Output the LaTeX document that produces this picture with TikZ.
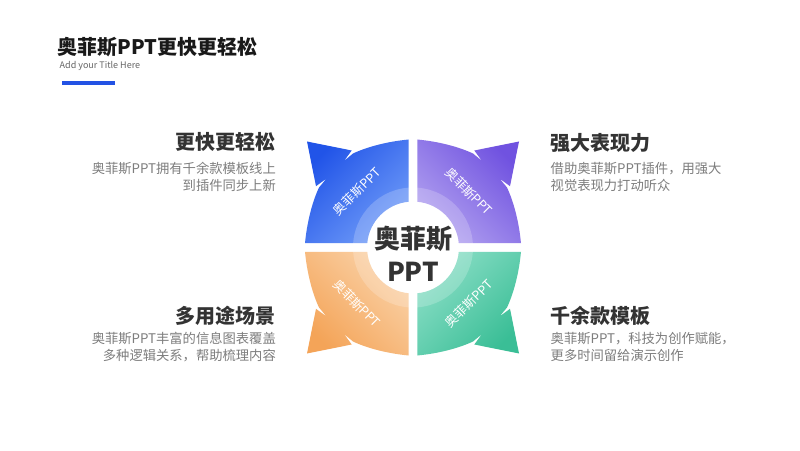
\documentclass[tikz,border=0pt]{standalone}
\usepackage{fontspec}
\newfontfamily\cjk{Noto Sans CJK SC}
\usepackage{xcolor}
\usepackage{tikz}
\usetikzlibrary{positioning, calc}

\definecolor{titleblue}{RGB}{35,82,228}
\definecolor{blueDark}{RGB}{33,84,232}
\definecolor{blueLight}{RGB}{112,156,248}
\definecolor{purpleDark}{RGB}{112,82,224}
\definecolor{purpleLight}{RGB}{178,162,240}
\definecolor{greenDark}{RGB}{58,190,150}
\definecolor{greenLight}{RGB}{138,222,198}
\definecolor{orangeDark}{RGB}{244,164,88}
\definecolor{orangeLight}{RGB}{250,210,168}
\definecolor{headgray}{RGB}{51,51,51}
\definecolor{bodygray}{RGB}{125,125,125}

% one quarter arrow, first quadrant, centre at origin
\newcommand{\petalpath}{(4.3,45.8) -- (4.3,108) .. controls (25,106) and (45,101) .. (60,94) -- (69,86.5) -- (61.3,97) -- (106,106) -- (97,61.3) -- (86.5,69) -- (94,60) .. controls (101,45) and (106,25) .. (108,4.3) -- (45.8,4.3) arc[start angle=5.36, end angle=84.64, radius=46] -- cycle}

\begin{document}
\begin{tikzpicture}[
    x=1pt, y=1pt,
    titletext/.style={font=\cjk\bfseries\fontsize{20}{24}\selectfont, text=black!90, inner sep=0pt},
    subtext/.style={font=\cjk\fontsize{9}{11}\selectfont, text=black!60, inner sep=0pt},
    headtext/.style={font=\cjk\bfseries\fontsize{20}{24}\selectfont, text=headgray, inner sep=0pt},
    bodytext/.style={font=\cjk\fontsize{13.3}{17.5}\selectfont, text=bodygray, inner sep=0pt},
    petaltext/.style={font=\cjk\fontsize{12.5}{15}\selectfont, text=white, inner sep=0pt},
    centertext/.style={font=\cjk\bfseries\fontsize{26}{33.5}\selectfont, text=headgray, align=center, inner sep=0pt}
]
\useasboundingbox (0,0) rectangle (800,450);
\fill[white] (0,0) rectangle (800,450);

% === Title ===
\node[titletext, anchor=base west] (title) at (57.5,395.9) {奥菲斯PPT更快更轻松};
\node[subtext, anchor=base west] (subtitle) at ([xshift=2pt, yshift=-14.4pt]title.base west) {Add your Title Here};
\fill[titleblue] (61.7,365) rectangle (115,369);

% === Four arrows round the centre ===
\coordinate (C) at (413,202.5);
\begin{scope}[shift={(C)}]
\shade[top color=purpleDark, bottom color=purpleLight, shading angle=-45] \petalpath;
\shade[xscale=-1, top color=blueDark, bottom color=blueLight, shading angle=45] \petalpath;
\shade[yscale=-1, top color=greenDark, bottom color=greenLight, shading angle=225] \petalpath;
\shade[scale=-1, top color=orangeDark, bottom color=orangeLight, shading angle=135] \petalpath;

% light ring
\fill[white, opacity=0.2, even odd rule] (0,0) circle[radius=60] (0,0) circle[radius=46];

\node[petaltext, rotate=45] (bluelabel) at (-56,56) {奥菲斯PPT};
\node[petaltext, rotate=-45] (purplelabel) at (56,56) {奥菲斯PPT};
\node[petaltext, rotate=-45] (orangelabel) at (-56,-56) {奥菲斯PPT};
\node[petaltext, rotate=45] (greenlabel) at (56,-56) {奥菲斯PPT};
\end{scope}

% base of a two-line node is its last line
\node[centertext, anchor=base] (brand) at (413,168.3) {奥菲斯\\PPT};

% === Left texts ===
\node[headtext, anchor=base east] (speedhead) at (276,300.5) {更快更轻松};
\node[bodytext, align=right, anchor=base east] (speedbody) at ([yshift=-41.2pt]speedhead.base east) {奥菲斯PPT拥有千余款模板线上\\到插件同步上新};

\node[headtext, anchor=base east] (scenehead) at (276,126.1) {多用途场景};
\node[bodytext, align=right, anchor=base east] (scenebody) at ([yshift=-36.8pt]scenehead.base east) {奥菲斯PPT丰富的信息图表覆盖\\多种逻辑关系，帮助梳理内容};

% === Right texts ===
\node[headtext, anchor=base west] (powerhead) at (550.5,299.8) {强大表现力};
\node[bodytext, align=left, anchor=base west] (powerbody) at ([yshift=-40.5pt]powerhead.base west) {借助奥菲斯PPT插件，用强大\\视觉表现力打动听众};

\node[headtext, anchor=base west] (modelhead) at (550.5,126.1) {千余款模板};
\node[bodytext, align=left, anchor=base west] (modelbody) at ([yshift=-36.8pt]modelhead.base west) {奥菲斯PPT，科技为创作赋能，\\更多时间留给演示创作};

\end{tikzpicture}
\end{document}
